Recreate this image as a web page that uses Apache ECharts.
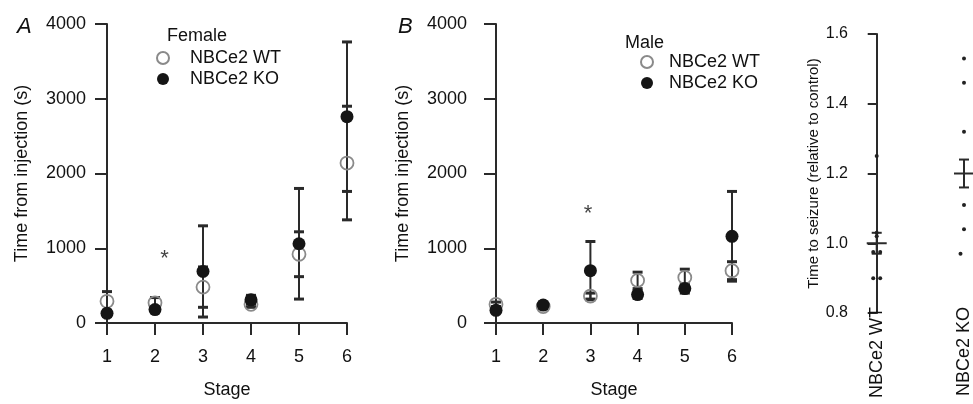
<!DOCTYPE html>
<html>
<head>
<meta charset="utf-8">
<script src="https://cdn.jsdelivr.net/npm/echarts@6/dist/echarts.min.js"></script>
<style>
  html, body { margin: 0; padding: 0; background: #fff; }
  #main { width: 973px; height: 404px; }
</style>
</head>
<body>
<div id="main"></div>
<script>
// stages of the seizure score
var stages = [1, 2, 3, 4, 5, 6];

// female, time from injection (s), mean and sem
var femaleWT    = [290, 270, 480, 250, 920, 2140];
var femaleWTSem = [130, 70, 270, 40, 300, 760];
var femaleKO    = [130, 180, 690, 310, 1060, 2760];
var femaleKOSem = [40, 30, 610, 60, 740, 1000];

// male
var maleWT    = [250, 220, 360, 570, 610, 700];
var maleWTSem = [30, 30, 40, 110, 110, 120];
var maleKO    = [170, 240, 700, 380, 460, 1160];
var maleKOSem = [30, 40, 390, 50, 60, 600];

// significance marks (stage, time)
var sigFemale = [[2.2, 860]];
var sigMale   = [[2.95, 1460]];

// time to seizure relative to control
var groups      = ['NBCe2 WT', 'NBCe2 KO'];
var seizureWT   = [1.25, 1.03, 1.02, 0.975, 0.975, 0.90, 0.90];
var seizureKO   = [1.53, 1.46, 1.32, 1.11, 1.04, 0.97, 0.97];
var seizureMean = [1.0, 1.2];
var seizureSem  = [0.03, 0.04];

var FONT = 'Liberation Sans, Arial, Helvetica, sans-serif';
var INK = '#2a2a2a';
var TXT = '#111';

function pairs(means) {
    return stages.map(function (s, i) { return [s, means[i]]; });
}
function ranges(means, sems) {
    return stages.map(function (s, i) { return [s, means[i] - sems[i], means[i] + sems[i]]; });
}

// spread out identical values a little so both dots show
function jitter(vals, x) {
    var seen = {};
    return vals.map(function (v) {
        var n = seen[v] || 0;
        seen[v] = n + 1;
        var dup = vals.filter(function (w) { return w === v; }).length;
        var off = dup > 1 ? (n - (dup - 1) / 2) * 0.08 : 0;
        return [x + off, v];
    });
}

function errRender(params, api) {
    var x = api.value(0);
    var hi = api.coord([x, api.value(2)]);
    var lo = api.coord([x, api.value(1)]);
    var thin = { stroke: INK, lineWidth: 2 };
    var cap = { stroke: INK, lineWidth: 3 };
    return {
        type: 'group',
        children: [
            { type: 'line', shape: { x1: hi[0], y1: hi[1], x2: lo[0], y2: lo[1] }, style: thin },
            { type: 'line', shape: { x1: hi[0] - 5, y1: hi[1], x2: hi[0] + 5, y2: hi[1] }, style: cap },
            { type: 'line', shape: { x1: lo[0] - 5, y1: lo[1], x2: lo[0] + 5, y2: lo[1] }, style: cap }
        ]
    };
}

function meanRender(params, api) {
    var x = api.value(0);
    var m = api.value(1), s = api.value(2);
    var pm = api.coord([x, m]);
    var hi = api.coord([x, m + s]);
    var lo = api.coord([x, m - s]);
    var st = { stroke: INK, lineWidth: 2 };
    return {
        type: 'group',
        children: [
            { type: 'line', shape: { x1: pm[0] - 10, y1: pm[1], x2: pm[0] + 10, y2: pm[1] }, style: st },
            { type: 'line', shape: { x1: hi[0], y1: hi[1], x2: lo[0], y2: lo[1] }, style: st },
            { type: 'line', shape: { x1: hi[0] - 5, y1: hi[1], x2: hi[0] + 5, y2: hi[1] }, style: st },
            { type: 'line', shape: { x1: lo[0] - 5, y1: lo[1], x2: lo[0] + 5, y2: lo[1] }, style: st }
        ]
    };
}

function stageX(idx) {
    return {
        gridIndex: idx, type: 'value', min: 1, max: 6, interval: 1,
        name: 'Stage', nameLocation: 'middle', nameGap: 58,
        nameTextStyle: { fontSize: 18, color: TXT, fontFamily: FONT },
        axisLine: { lineStyle: { color: INK, width: 2 } },
        axisTick: { length: 12, lineStyle: { color: INK, width: 2 } },
        axisLabel: { fontSize: 18, color: TXT, fontFamily: FONT, margin: 25 },
        splitLine: { show: false }
    };
}
function stageY(idx, gap, margin) {
    return {
        gridIndex: idx, type: 'value', min: 0, max: 4000, interval: 1000,
        name: 'Time from injection (s)', nameLocation: 'middle', nameGap: gap,
        nameTextStyle: { fontSize: 18, color: TXT, fontFamily: FONT },
        axisLine: { show: true, lineStyle: { color: INK, width: 2 } },
        axisTick: { show: true, length: 12, lineStyle: { color: INK, width: 2 } },
        axisLabel: { fontSize: 18, color: TXT, fontFamily: FONT, margin: margin,
            formatter: function (v) { return String(v); } },
        splitLine: { show: false }
    };
}

function wtSeries(x, y, data) {
    return {
        name: 'NBCe2 WT', type: 'scatter', xAxisIndex: x, yAxisIndex: y, data: data,
        symbol: 'circle', symbolSize: 13, z: 3,
        itemStyle: { color: 'rgba(255,255,255,0)', borderColor: '#8a8a8a', borderWidth: 1.8, opacity: 1 }
    };
}
function koSeries(x, y, data) {
    return {
        name: 'NBCe2 KO', type: 'scatter', xAxisIndex: x, yAxisIndex: y, data: data,
        symbol: 'circle', symbolSize: 13, z: 4,
        itemStyle: { color: '#151515', opacity: 1 }
    };
}
function errSeries(x, y, data) {
    return { type: 'custom', xAxisIndex: x, yAxisIndex: y, data: data, renderItem: errRender, z: 2 };
}
function starSeries(x, y, data) {
    return {
        type: 'scatter', xAxisIndex: x, yAxisIndex: y, data: data, symbolSize: 1,
        itemStyle: { color: 'rgba(0,0,0,0)' },
        label: { show: true, position: 'inside', formatter: '*', fontSize: 22, color: '#111', fontFamily: FONT }
    };
}

var legendBase = {
    orient: 'vertical', icon: 'circle', itemWidth: 12, itemHeight: 12, itemGap: 3,
    selectedMode: false, data: ['NBCe2 WT', 'NBCe2 KO']
};

var option = {
    backgroundColor: '#fff',
    animation: false,
    title: [
        { text: 'A', left: 12, top: 11, textStyle: { fontSize: 22, fontStyle: 'italic', fontWeight: 'normal', color: '#111', fontFamily: FONT } },
        { text: 'Female', left: 162, top: 22, textStyle: { fontSize: 18, fontWeight: 'normal', color: TXT, fontFamily: FONT } },
        { text: 'B', left: 393, top: 11, textStyle: { fontSize: 22, fontStyle: 'italic', fontWeight: 'normal', color: '#111', fontFamily: FONT } },
        { text: 'Male', left: 620, top: 29, textStyle: { fontSize: 18, fontWeight: 'normal', color: TXT, fontFamily: FONT } }
    ],
    legend: [
        Object.assign({}, legendBase, { left: 151, top: 44, textStyle: { fontSize: 18, color: TXT, fontFamily: FONT, padding: [0, 0, 0, 16] } }),
        Object.assign({}, legendBase, { left: 635, top: 48, textStyle: { fontSize: 18, color: TXT, fontFamily: FONT, padding: [0, 0, 0, 11] } })
    ],
    grid: [
        { left: 107, top: 24, width: 240, height: 304 },
        { left: 496, top: 24, width: 236, height: 303 },
        { left: 861, top: 34, width: 106, height: 279 }
    ],
    xAxis: [
        stageX(0),
        stageX(1),
        {
            gridIndex: 2, type: 'value', min: -0.18, max: 1,
            axisLine: { show: false }, axisTick: { show: false }, splitLine: { show: false },
            axisLabel: {
                customValues: [0, 1], rotate: 90, margin: -6, fontSize: 18, color: TXT, fontFamily: FONT,
                formatter: function (v) { return groups[Math.round(v)]; }
            }
        }
    ],
    yAxis: [
        stageY(0, 76, 21),
        stageY(1, 84, 29),
        {
            gridIndex: 2, type: 'value', min: 0.8, max: 1.6, interval: 0.2,
            name: 'Time to seizure (relative to control)', nameLocation: 'middle', nameGap: 39,
            nameTextStyle: { fontSize: 15, color: TXT, fontFamily: FONT },
            axisLine: { show: true, lineStyle: { color: INK, width: 2 } },
            axisTick: { show: true, length: 9, lineStyle: { color: INK, width: 2 } },
            axisLabel: { fontSize: 16, color: TXT, fontFamily: FONT, margin: 13,
                formatter: function (v) { return v.toFixed(1); } },
            splitLine: { show: false }
        }
    ],
    series: [
        errSeries(0, 0, ranges(femaleWT, femaleWTSem)),
        errSeries(0, 0, ranges(femaleKO, femaleKOSem)),
        wtSeries(0, 0, pairs(femaleWT)),
        koSeries(0, 0, pairs(femaleKO)),
        starSeries(0, 0, sigFemale),

        errSeries(1, 1, ranges(maleWT, maleWTSem)),
        errSeries(1, 1, ranges(maleKO, maleKOSem)),
        wtSeries(1, 1, pairs(maleWT)),
        koSeries(1, 1, pairs(maleKO)),
        starSeries(1, 1, sigMale),

        {
            type: 'scatter', xAxisIndex: 2, yAxisIndex: 2, symbolSize: 4,
            itemStyle: { color: '#222', opacity: 1 },
            data: jitter(seizureWT, 0).concat(jitter(seizureKO, 1))
        },
        {
            type: 'custom', xAxisIndex: 2, yAxisIndex: 2, renderItem: meanRender,
            data: groups.map(function (g, i) { return [i, seizureMean[i], seizureSem[i]]; })
        }
    ]
};

echarts.init(document.getElementById('main')).setOption(option);
</script>
</body>
</html>
